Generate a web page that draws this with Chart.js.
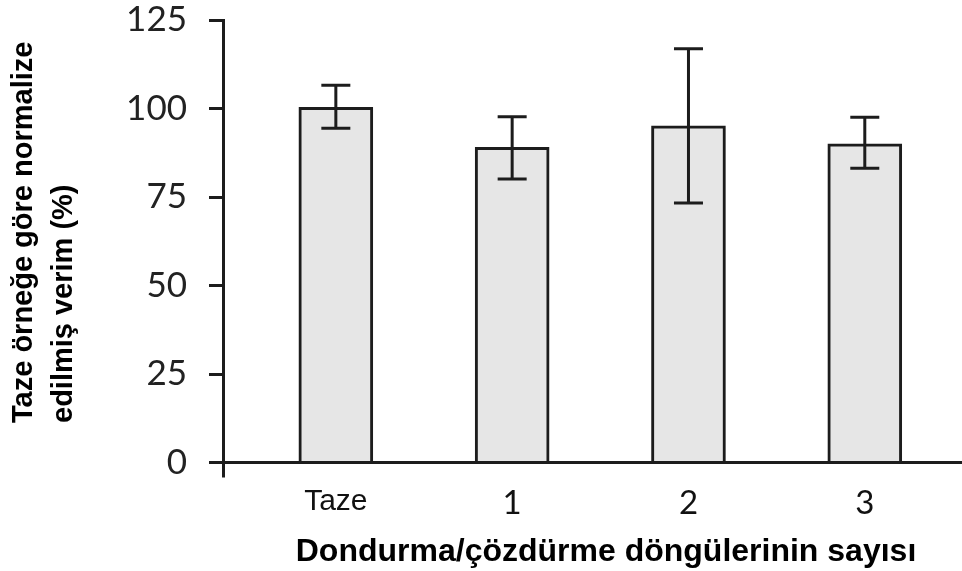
<!DOCTYPE html>
<html>
<head>
<meta charset="utf-8">
<script src="https://cdn.jsdelivr.net/npm/chart.js@4/dist/chart.umd.min.js"></script>
<style>
  html, body { margin: 0; padding: 0; background: #fff; }
  #wrap { width: 962px; height: 571px; position: relative; }
</style>
</head>
<body>
<div id="wrap"><canvas id="c" width="962" height="571"></canvas></div>
<script>
const categories = ['Taze', '1', '2', '3'];
const positions = [0, 1, 2, 3];
const values = [100.3, 89.0, 95.1, 90.0];
const errLow = [94.4, 80.1, 73.3, 83.1];
const errHigh = [106.6, 97.7, 116.9, 97.5];
const yTicks = [0, 25, 50, 75, 100, 125];
const xTitle = 'Dondurma/çözdürme döngülerinin sayısı';
const yTitleLines = ['Taze örneğe göre normalize', 'edilmiş verim (%)'];

const X_MIN = -0.64, X_MAX = 3.54;
const INK = '#1c1c1c';

const errorBars = {
  id: 'errorBars',
  afterDatasetsDraw(chart) {
    const { ctx, scales: { x, y } } = chart;
    ctx.save();
    ctx.strokeStyle = INK;
    ctx.lineWidth = 3;
    ctx.lineCap = 'butt';
    positions.forEach((p, i) => {
      const px = x.getPixelForValue(p);
      const yl = y.getPixelForValue(errLow[i]);
      const yh = y.getPixelForValue(errHigh[i]);
      const cap = 14.5;
      ctx.beginPath();
      ctx.moveTo(px, yl); ctx.lineTo(px, yh);
      ctx.moveTo(px - cap, yh); ctx.lineTo(px + cap, yh);
      ctx.moveTo(px - cap, yl); ctx.lineTo(px + cap, yl);
      ctx.stroke();
    });
    ctx.restore();
  }
};

const titles = {
  id: 'titles',
  afterDraw(chart) {
    const { ctx } = chart;
    ctx.save();
    ctx.fillStyle = '#000';
    ctx.font = 'bold 32px "Liberation Sans", Arial, sans-serif';
    ctx.textAlign = 'center';
    ctx.textBaseline = 'alphabetic';
    ctx.fillText(xTitle, 606, 561);
    ctx.translate(0, 423);
    ctx.rotate(-Math.PI / 2);
    ctx.textAlign = 'left';
    ctx.font = 'bold 29px "Liberation Sans", Arial, sans-serif';
    ctx.fillText(yTitleLines[0], 0, 32);
    ctx.fillText(yTitleLines[1], 0, 72);
    ctx.restore();
  }
};

new Chart(document.getElementById('c'), {
  type: 'bar',
  data: {
    datasets: [{
      data: positions.map((p, i) => ({ x: p, y: values[i] })),
      backgroundColor: '#e6e6e6',
      borderColor: INK,
      borderWidth: 3,
      borderSkipped: 'bottom',
      barThickness: 74
    }]
  },
  options: {
    responsive: false,
    animation: false,
    devicePixelRatio: 1,
    layout: { padding: { top: 20, right: 2, left: 0, bottom: 0 } },
    plugins: { legend: { display: false }, tooltip: { enabled: false } },
    scales: {
      x: {
        type: 'linear',
        offset: false,
        min: X_MIN,
        max: X_MAX,
        afterBuildTicks(scale) {
          scale.ticks = [{ value: X_MIN }].concat(positions.map(v => ({ value: v })));
        },
        afterFit(scale) { scale.height = 108.5; scale.paddingLeft = 0; scale.paddingRight = 0; },
        ticks: {
          autoSkip: false,
          maxRotation: 0,
          padding: 6,
          color: '#111',
          font: (ctx) => ctx.index === 1
            ? { family: '"Liberation Sans", Arial, sans-serif', size: 30 }
            : { family: 'Lato, "Open Sans", sans-serif', size: 33, weight: 400 },
          callback: (v) => {
            const i = positions.indexOf(v);
            return i >= 0 ? categories[i] : '';
          }
        },
        grid: {
          offset: false,
          drawOnChartArea: false,
          drawTicks: true,
          tickLength: 15,
          lineWidth: 3,
          color: (ctx) => (ctx.tick && ctx.tick.value === X_MIN) ? INK : 'rgba(0,0,0,0)'
        },
        border: { display: true, color: INK, width: 3 }
      },
      y: {
        min: 0,
        max: 125,
        afterBuildTicks(scale) { scale.ticks = yTicks.map(v => ({ value: v })); },
        afterFit(scale) { scale.width = 223; scale.paddingTop = 0; scale.paddingBottom = 0; },
        ticks: {
          padding: 22,
          color: '#222',
          font: { family: 'Lato, "Open Sans", sans-serif', size: 35, weight: 400 }
        },
        grid: {
          drawOnChartArea: false,
          drawTicks: true,
          tickLength: 14,
          lineWidth: 3,
          color: INK
        },
        border: { display: true, color: INK, width: 3 }
      }
    }
  },
  plugins: [errorBars, titles]
});
</script>
</body>
</html>
